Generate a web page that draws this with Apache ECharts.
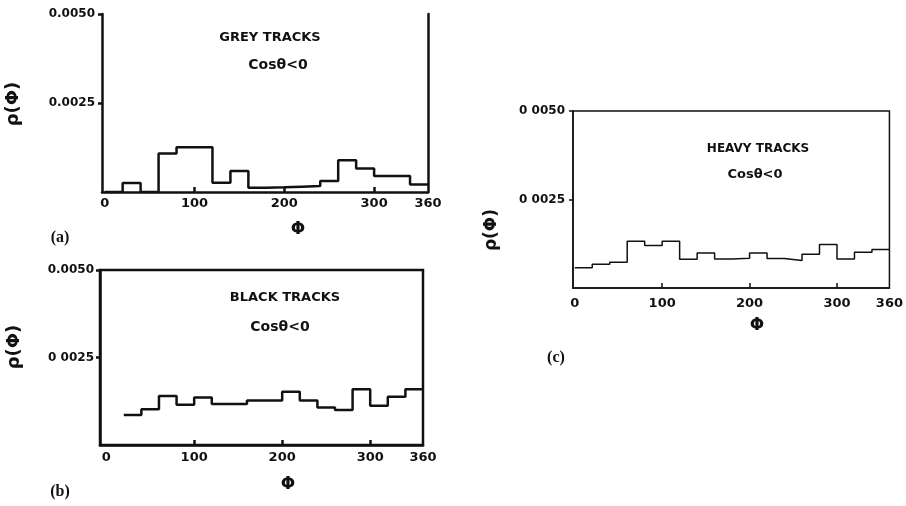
<!DOCTYPE html>
<html><head><meta charset="utf-8">
<script src="https://cdn.jsdelivr.net/npm/echarts@6/dist/echarts.min.js"></script>
<style>html,body{margin:0;padding:0;background:#fff}#c{width:906px;height:506px}</style>
</head><body><div id="c"></div><script>
// ---- data ----
const binStarts = [0,20,40,60,80,100,120,140,160,180,200,220,240,260,280,300,320,340];
const binEnd = 360;
const greyValues  = [0,0.00025,0,0.00108,0.00126,0.00126,0.00026,0.00059,0.00012,0.00013,0.00015,0.00017,0.00031,0.00089,0.00066,0.00045,0.00045,0.00021];
const blackValues = [null,0.00086,0.00102,0.00140,0.00115,0.00136,0.00117,0.00117,0.00127,0.00127,0.00152,0.00127,0.00107,0.00100,0.00159,0.00112,0.00138,0.00159];
const heavyValues = [0.00057,0.00067,0.00073,0.00132,0.00120,0.00132,0.00081,0.00099,0.00082,0.00084,0.00099,0.00083,0.00078,0.00095,0.00123,0.00082,0.00101,0.00109];
const xLabelValues = [0,100,200,300,360];
const xTickValues = [100,200,300];
const yTickValues = [0.0025,0.005];
const yLabelsA = ['0.0025','0.0050'];
const yLabelsB = ['0 0025','0.0050'];
const yLabelsC = ['0 0025','0 0050'];
const panelTitles = ['GREY TRACKS','BLACK TRACKS','HEAVY TRACKS'];
const panelCond = 'Cosθ<0';
const panelTags = ['(a)','(b)','(c)'];
const yName = 'ρ(Φ)';
const xName = 'Φ';

function stepData(vals){
  const d = binStarts.map((s,i)=>[s, vals[i]]);
  d.push([binEnd, vals[vals.length-1]]);
  return d;
}
const INK = '#111';
const font = 'DejaVu Sans, Liberation Sans, sans-serif';

function xAxis(gi, min, lw, margin){
  return {type:'value', gridIndex:gi, min:min, max:binEnd,
    axisLine:{show:true, onZero:false, lineStyle:{color:INK, width:lw}},
    axisTick:{show:true, inside:true, length:5, customValues:xTickValues, lineStyle:{color:INK, width:lw}},
    axisLabel:{show:true, customValues:xLabelValues, margin:margin, color:INK, fontWeight:'bold', fontSize:13, fontFamily:font},
    splitLine:{show:false}};
}
function yAxis(gi, labels, lw, margin){
  return {type:'value', gridIndex:gi, min:0, max:0.005, position:'left',
    axisLine:{show:true, onZero:false, lineStyle:{color:INK, width:lw}},
    axisTick:{show:true, inside:false, length:4, customValues:yTickValues, lineStyle:{color:INK, width:lw}},
    axisLabel:{show:true, customValues:yTickValues, margin:margin, color:INK, fontWeight:'bold', fontSize:12, fontFamily:font,
      formatter:(v)=> labels[yTickValues.findIndex(t=>Math.abs(t-v)<1e-9)]},
    splitLine:{show:false}};
}
function txt(x,y,text,size,opts){
  return Object.assign({type:'text', x:x, y:y, style:Object.assign({text:text, fill:INK, font:'bold '+size+'px '+font, textAlign:'center', textVerticalAlign:'middle'}, (opts&&opts.style)||{})}, (opts&&opts.el)||{});
}

const option = {
  animation:false,
  backgroundColor:'#fff',
  grid:[
    {left:102, top:14, width:326, height:178},
    {left:100, top:270, width:323, height:175, show:true, borderColor:INK, borderWidth:2.5, backgroundColor:'transparent'},
    {left:573, top:111, width:322, height:177, show:true, borderColor:INK, borderWidth:1.5, backgroundColor:'transparent'}
  ],
  xAxis:[ xAxis(0,-3,2.5,5), xAxis(1,-7,2.5,6), xAxis(2,-2,1.5,9) ],
  yAxis:[
    yAxis(0,yLabelsA,2.5,7), yAxis(1,yLabelsB,2.5,6), yAxis(2,yLabelsC,1.5,8),
    {type:'value', gridIndex:0, min:0, max:0.005, position:'right', axisLine:{show:true, onZero:false, lineStyle:{color:INK,width:2.5}}, axisTick:{show:false}, axisLabel:{show:false}, splitLine:{show:false}}
  ],
  series:[
    {type:'line', xAxisIndex:0, yAxisIndex:0, step:'end', data:stepData(greyValues), symbol:'none', lineStyle:{color:INK, width:2.5}},
    {type:'line', xAxisIndex:1, yAxisIndex:1, step:'end', data:stepData(blackValues), symbol:'none', lineStyle:{color:INK, width:2.5}},
    {type:'line', xAxisIndex:2, yAxisIndex:2, step:'end', data:stepData(heavyValues), symbol:'none', lineStyle:{color:INK, width:1.5}}
  ],
  graphic:[
    txt(13,104,yName,18,{el:{rotation:Math.PI/2}}),
    txt(14,347,yName,18,{el:{rotation:Math.PI/2}}),
    txt(492,230,yName,17,{el:{rotation:Math.PI/2}}),
    txt(298,230,xName,17), txt(288,485,xName,17), txt(757,326,xName,17),
    txt(60,238,panelTags[0],16,{style:{font:'bold 16px Liberation Serif, serif'}}),
    txt(60,492,panelTags[1],16,{style:{font:'bold 16px Liberation Serif, serif'}}),
    txt(556,358,panelTags[2],16,{style:{font:'bold 16px Liberation Serif, serif'}}),
    txt(270,38,panelTitles[0],13), txt(278,65,panelCond,14),
    txt(285,298,panelTitles[1],13), txt(280,327,panelCond,14),
    txt(758,149,panelTitles[2],12), txt(755,175,panelCond,13)
  ]
};
const chart = echarts.init(document.getElementById('c'));
chart.setOption(option);
</script></body></html>
